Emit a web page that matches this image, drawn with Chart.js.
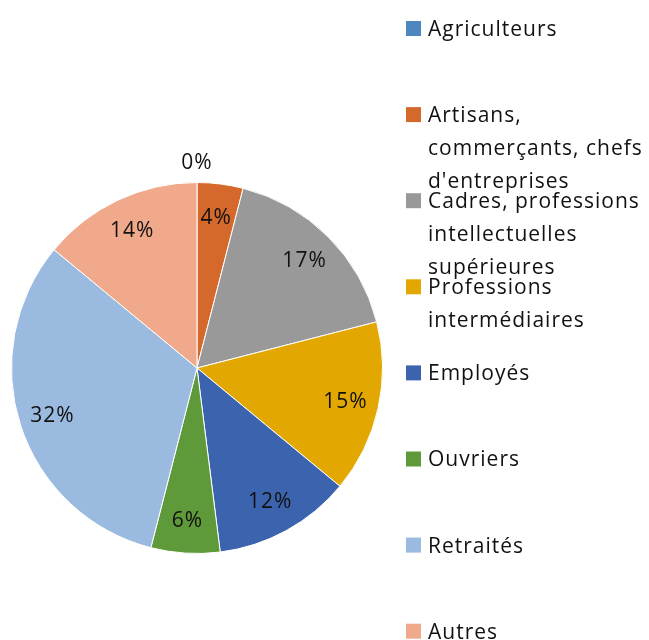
<!DOCTYPE html>
<html>
<head>
<meta charset="utf-8">
<script src="https://cdn.jsdelivr.net/npm/chart.js@4/dist/chart.umd.min.js"></script>
<style>
  html, body { margin: 0; padding: 0; background: #fff; }
  #wrap { width: 649px; height: 640px; }
</style>
</head>
<body>
<div id="wrap"><canvas id="pieChart" width="649" height="640"></canvas></div>
<script>
// Chart data
const categories = [
  'Agriculteurs',
  'Artisans, commerçants, chefs d\'entreprises',
  'Cadres, professions intellectuelles supérieures',
  'Professions intermédiaires',
  'Employés',
  'Ouvriers',
  'Retraités',
  'Autres'
];
const shares = [0, 4, 17, 15, 12, 6, 32, 14];
const sliceColors = ['#4E86BF', '#D5692B', '#999999', '#E2A700', '#3C63AD', '#5F9A3A', '#9ABAE0', '#F0A98A'];

const FONT = '21px "Open Sans", Lato, sans-serif';

// percentage labels on the slices
const sliceLabels = {
  id: 'sliceLabels',
  afterDatasetsDraw(chart) {
    const ctx = chart.ctx;
    const meta = chart.getDatasetMeta(0);
    ctx.save();
    ctx.font = FONT;
    ctx.letterSpacing = '1px';
    ctx.fillStyle = '#111';
    ctx.textAlign = 'center';
    ctx.textBaseline = 'middle';
    meta.data.forEach((arc, i) => {
      const mid = (arc.startAngle + arc.endAngle) / 2;
      // zero slice gets its label just outside the pie
      const r = shares[i] === 0 ? arc.outerRadius + 20 : arc.outerRadius * 0.82;
      const x = arc.x + Math.cos(mid) * r;
      const y = arc.y + Math.sin(mid) * r + 1;
      ctx.fillText(shares[i] + '%', x, y);
    });
    ctx.restore();
  }
};

// legend on the right, wrapped like the original
const sideLegend = {
  id: 'sideLegend',
  afterDraw(chart) {
    const ctx = chart.ctx;
    ctx.save();
    ctx.font = FONT;
    ctx.letterSpacing = '1px';
    ctx.textBaseline = 'middle';
    ctx.textAlign = 'left';
    const boxX = 406, textX = 428, maxW = 221;
    const firstY = 28, step = 86.1, lineH = 33;
    categories.forEach((label, i) => {
      const y0 = firstY + i * step;
      ctx.fillStyle = sliceColors[i];
      ctx.fillRect(boxX, y0 - 7, 15, 15);
      // word wrap
      const words = label.split(' ');
      const lines = [];
      let cur = '';
      words.forEach(w => {
        const test = cur ? cur + ' ' + w : w;
        if (ctx.measureText(test).width > maxW && cur) {
          lines.push(cur);
          cur = w;
        } else {
          cur = test;
        }
      });
      lines.push(cur);
      ctx.fillStyle = '#111';
      lines.forEach((ln, j) => ctx.fillText(ln, textX, y0 + 2 + j * lineH));
    });
    ctx.restore();
  }
};

new Chart(document.getElementById('pieChart'), {
  type: 'pie',
  data: {
    labels: categories,
    datasets: [{
      data: shares,
      backgroundColor: sliceColors,
      borderColor: '#ffffff',
      borderWidth: 1,
      hoverOffset: 0
    }]
  },
  options: {
    responsive: false,
    animation: false,
    layout: { padding: { left: 11, right: 266, top: 182, bottom: 86 } },
    plugins: {
      legend: { display: false },
      tooltip: { enabled: false }
    }
  },
  plugins: [sliceLabels, sideLegend]
});
</script>
</body>
</html>
